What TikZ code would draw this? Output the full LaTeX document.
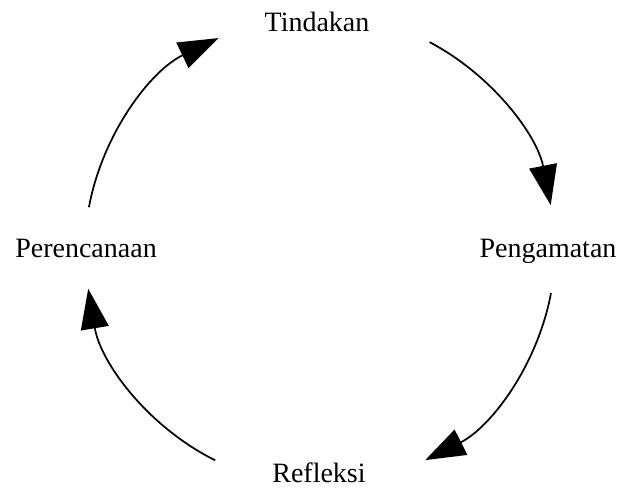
\documentclass[tikz,border=0pt]{standalone}
\usepackage{fontspec}
\setmainfont{Liberation Serif}
\usetikzlibrary{arrows.meta}

\begin{document}
\begin{tikzpicture}[x=0.75pt,y=0.75pt,
  tahap/.style={anchor=base,inner sep=0pt,font=\fontsize{21}{25}\selectfont},
  panah/.style={line width=1.3pt,-{Triangle[length=30pt,width=21pt]}}]
  \useasboundingbox (0,0) rectangle (622,489);
  \coordinate (c) at (320,239);
  \node[tahap] (tindakan) at (317,457) {Tindakan};
  \node[tahap] (pengamatan) at (548,231) {Pengamatan};
  \node[tahap] (refleksi) at (319,6) {Refleksi};
  \node[tahap] (perencanaan) at (86,231) {Perencanaan};
  \coordinate (a1) at ([shift={(169.5:235)}]c);
  \coordinate (a2) at ([shift={(62.2:235)}]c);
  \coordinate (a3) at ([shift={(-10.6:235)}]c);
  \coordinate (a4) at ([shift={(-116.5:235)}]c);
  \draw[panah] (a1) arc[start angle=169.5,end angle=115.6,radius=235];
  \draw[panah] (a2) arc[start angle=62.2,end angle=11,radius=235];
  \draw[panah] (a3) arc[start angle=-10.6,end angle=-63.4,radius=235];
  \draw[panah] (a4) arc[start angle=-116.5,end angle=-170.5,radius=235];
\end{tikzpicture}
\end{document}
